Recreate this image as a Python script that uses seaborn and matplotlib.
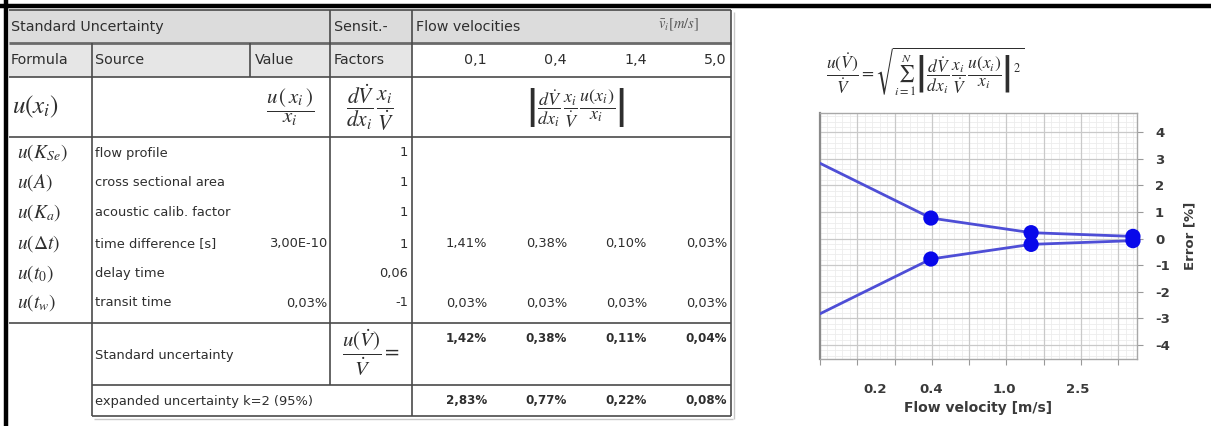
import numpy as np
import matplotlib
matplotlib.use("Agg")
import matplotlib.pyplot as plt
import matplotlib.ticker as mticker
import seaborn as sns

# ---- budget data -------------------------------------------------------
velocities = [0.1, 0.4, 1.4, 5.0]                 # flow velocities [m/s]
velocity_labels = ["0,1", "0,4", "1,4", "5,0"]

formula_symbols = [r"$u\left(K_{Se}\right)$", r"$u\left(A\right)$", r"$u\left(K_a\right)$",
                   r"$u\left(\Delta t\right)$", r"$u\left(t_0\right)$", r"$u\left(t_w\right)$"]
sources = ["flow profile", "cross sectional area", "acoustic calib. factor",
           "time difference [s]", "delay time", "transit time"]
source_values = ["", "", "", "3,00E-10", "", "0,03%"]
sensitivities = ["1", "1", "1", "1", "0,06", "-1"]

time_difference_part = [1.41, 0.38, 0.10, 0.03]   # % per velocity
transit_time_part = [0.03, 0.03, 0.03, 0.03]      # % per velocity
standard_uncertainty = [1.42, 0.38, 0.11, 0.04]   # %
expanded_uncertainty = [2.83, 0.77, 0.22, 0.08]   # %, k=2

chart_ticks = [0.2, 0.4, 1.0, 2.5]
error_ticks = [-4, -3, -2, -1, 0, 1, 2, 3, 4]


def pct(v):
    return f"{v:.2f}%".replace(".", ",")


sns.set_theme(style="white")
plt.rcParams["font.family"] = ["DejaVu Sans"]
plt.rcParams["mathtext.fontset"] = "stix"

W, H = 1211, 426
fig = plt.figure(figsize=(W / 100, H / 100), dpi=100)

# ---- table, drawn in pixel coordinates ---------------------------------
tab = fig.add_axes([0, 0, 1, 1], zorder=0)
tab.set_xlim(0, W)
tab.set_ylim(H, 0)
tab.axis("off")

TXT = "#2e2e2e"
LINE = "#4a4a4a"
FH = 10.3   # header text
FR = 9.4    # row text

# header fills
tab.fill_between([9, 731], 10, 43, color="#dcdcdc", lw=0)
tab.fill_between([9, 412], 43, 77, color="#e6e6e6", lw=0)

def hline(y, x0, x1, lw=1.2, c=LINE):
    tab.plot([x0, x1], [y, y], color=c, lw=lw, solid_capstyle="butt")

def vline(x, y0, y1, lw=1.2, c=LINE):
    tab.plot([x, x], [y0, y1], color=c, lw=lw, solid_capstyle="butt")

hline(10, 9, 731)
hline(43, 9, 731, lw=2.0, c="#6a6a6a")
hline(77, 9, 731)
hline(137, 9, 731)
hline(323, 9, 731)
hline(385, 92, 731)
hline(416, 92, 731)
hline(419, 94, 733, lw=1.0, c="#c8c8c8")
vline(92, 43, 416)
vline(250, 43, 77)
vline(330, 10, 385)
vline(412, 10, 416)
vline(731, 10, 416)
vline(734, 12, 419, lw=1.0, c="#c8c8c8")

# outer black frame
tab.plot([0, W], [6, 6], color="black", lw=3.2, solid_capstyle="butt")
tab.plot([6, 6], [0, H], color="black", lw=3.2, solid_capstyle="butt")

# header row 1
tab.text(11, 27, "Standard Uncertainty", fontsize=FH, color=TXT, va="center")
tab.text(334, 27, "Sensit.-", fontsize=FH, color=TXT, va="center")
tab.text(416, 27, "Flow velocities", fontsize=FH, color=TXT, va="center")
tab.text(679, 25, r"$\bar{v}_i\left[m/s\right]$", fontsize=10.5, color="#555555",
         va="center", ha="center")

# header row 2
tab.text(11, 60, "Formula", fontsize=FH, color=TXT, va="center")
tab.text(95, 60, "Source", fontsize=FH, color=TXT, va="center")
tab.text(255, 60, "Value", fontsize=FH, color=TXT, va="center")
tab.text(334, 60, "Factors", fontsize=FH, color=TXT, va="center")
col_right = [487, 567, 647, 727]
for xr, lab in zip(col_right, velocity_labels):
    tab.text(xr, 60, lab, fontsize=FH, color=TXT, va="center", ha="right")

# formula row
tab.text(12, 107, r"$u\left(x_i\right)$", fontsize=18, color=TXT, va="center")
tab.text(290, 107, r"$\dfrac{u\,(\,x_i\,)}{x_i}$", fontsize=15, color=TXT,
         va="center", ha="center")
tab.text(370, 108, r"$\dfrac{d\dot{V}}{dx_i}\,\dfrac{x_i}{\dot{V}}$", fontsize=15.5,
         color=TXT, va="center", ha="center")
tab.text(575, 107,
         r"$\left|\dfrac{d\dot{V}}{dx_i}\,\dfrac{x_i}{\dot{V}}\,\dfrac{u(x_i)}{x_i}\right|$",
         fontsize=13, color=TXT, va="center", ha="center")

# contribution rows
row_y = [153, 183, 213, 244, 274, 303]
for y, sym, src, val, sens in zip(row_y, formula_symbols, sources,
                                  source_values, sensitivities):
    tab.text(17, y, sym, fontsize=14, color=TXT, va="center")
    tab.text(95, y, src, fontsize=FR, color=TXT, va="center")
    if val:
        tab.text(327, y, val, fontsize=FR, color=TXT, va="center", ha="right")
    tab.text(408, y, sens, fontsize=FR, color=TXT, va="center", ha="right")

for xr, v in zip(col_right, time_difference_part):
    tab.text(xr, row_y[3], pct(v), fontsize=FR, color=TXT, va="center", ha="right")
for xr, v in zip(col_right, transit_time_part):
    tab.text(xr, row_y[5], pct(v), fontsize=FR, color=TXT, va="center", ha="right")

# result rows
tab.text(95, 355, "Standard uncertainty", fontsize=FR, color=TXT, va="center")
tab.text(371, 353, r"$\dfrac{u\left(\dot{V}\right)}{\dot{V}}=$", fontsize=15,
         color=TXT, va="center", ha="center")
for xr, v in zip(col_right, standard_uncertainty):
    tab.text(xr, 338, pct(v), fontsize=8.6, color=TXT, va="center", ha="right",
             fontweight="bold")
tab.text(95, 401, "expanded uncertainty k=2 (95%)", fontsize=FR, color=TXT, va="center")
for xr, v in zip(col_right, expanded_uncertainty):
    tab.text(xr, 401, pct(v), fontsize=8.6, color=TXT, va="center", ha="right",
             fontweight="bold")

# combined-uncertainty formula above the chart
tab.text(925, 72,
         r"$\dfrac{u\left(\dot{V}\right)}{\dot{V}}=\sqrt{\sum_{i=1}^{N}"
         r"\left|\dfrac{d\dot{V}}{dx_i}\,\dfrac{x_i}{\dot{V}}\,\dfrac{u\left(x_i\right)}{x_i}\right|^2}$",
         fontsize=12.5, color=TXT, va="center", ha="center")

# ---- error band chart --------------------------------------------------
ax = fig.add_axes([820 / W, 1 - 359 / H, 317 / W, 246 / H], zorder=2)
ax.set_xscale("log")
x_lo, x_hi = 0.1, 5.26
ax.set_xlim(x_lo, x_hi)
ax.set_ylim(-4.53, 4.72)

# evenly spaced chart grid (coarse and fine)
coarse = 10 ** (np.log10(x_lo) + np.arange(0, 9) * 0.2025)
fine = 10 ** (np.log10(x_lo) + np.arange(0, 43) * 0.2025 / 5)
ax.vlines(fine, 0, 1, transform=ax.get_xaxis_transform(), color="#ececec", lw=0.6, zorder=0)
ax.hlines(np.arange(-4.6, 4.8, 0.2), 0, 1, transform=ax.get_yaxis_transform(),
          color="#ececec", lw=0.6, zorder=0)
ax.vlines(coarse, 0, 1, transform=ax.get_xaxis_transform(), color="#c9c9c9", lw=0.9, zorder=0)
ax.hlines(error_ticks, 0, 1, transform=ax.get_yaxis_transform(),
          color="#c9c9c9", lw=0.9, zorder=0)

upper = list(expanded_uncertainty)
lower = [-v for v in expanded_uncertainty]
for series in (upper, lower):
    sns.lineplot(x=velocities, y=series, ax=ax, color="#4e4ed6", lw=2.0,
                 estimator=None, sort=False, zorder=3)
    sns.scatterplot(x=velocities[1:], y=series[1:], ax=ax, color="#0808ea",
                    s=120, edgecolor="none", zorder=4, clip_on=False)

ax.xaxis.set_major_locator(mticker.FixedLocator(chart_ticks))
ax.xaxis.set_major_formatter(mticker.FixedFormatter([f"{t:.1f}" for t in chart_ticks]))
ax.xaxis.set_minor_locator(mticker.FixedLocator(coarse))
ax.xaxis.set_minor_formatter(mticker.NullFormatter())
ax.tick_params(axis="x", which="major", length=0, pad=17, labelsize=9.5,
               labelcolor="#3a3a3a")
ax.tick_params(axis="x", which="minor", length=4, width=0.8, color="#999999",
               direction="out", bottom=True)
for lab in ax.get_xticklabels():
    lab.set_fontweight("bold")

ax.yaxis.tick_right()
ax.yaxis.set_label_position("right")
ax.set_yticks(error_ticks)
ax.set_yticklabels([str(t) for t in error_ticks], fontweight="bold")
ax.yaxis.set_minor_locator(mticker.NullLocator())
ax.tick_params(axis="y", which="major", length=4, width=0.8, color="#999999",
               direction="out", right=True, left=False, pad=9, labelsize=9.5,
               labelcolor="#3a3a3a")

ax.set_xlabel("Flow velocity [m/s]", fontsize=10, fontweight="bold",
              color="#3a3a3a", labelpad=4)
ax.set_ylabel("Error [%]", fontsize=9.5, fontweight="bold", color="#3a3a3a",
              rotation=90, labelpad=10)

for side, sp in ax.spines.items():
    sp.set_color("#a8a8a8")
    sp.set_linewidth(1.0)
ax.spines["left"].set_color("#8a8a8a")
ax.spines["left"].set_linewidth(1.6)
ax.set_facecolor("white")

fig.savefig("out.png", dpi=100)
